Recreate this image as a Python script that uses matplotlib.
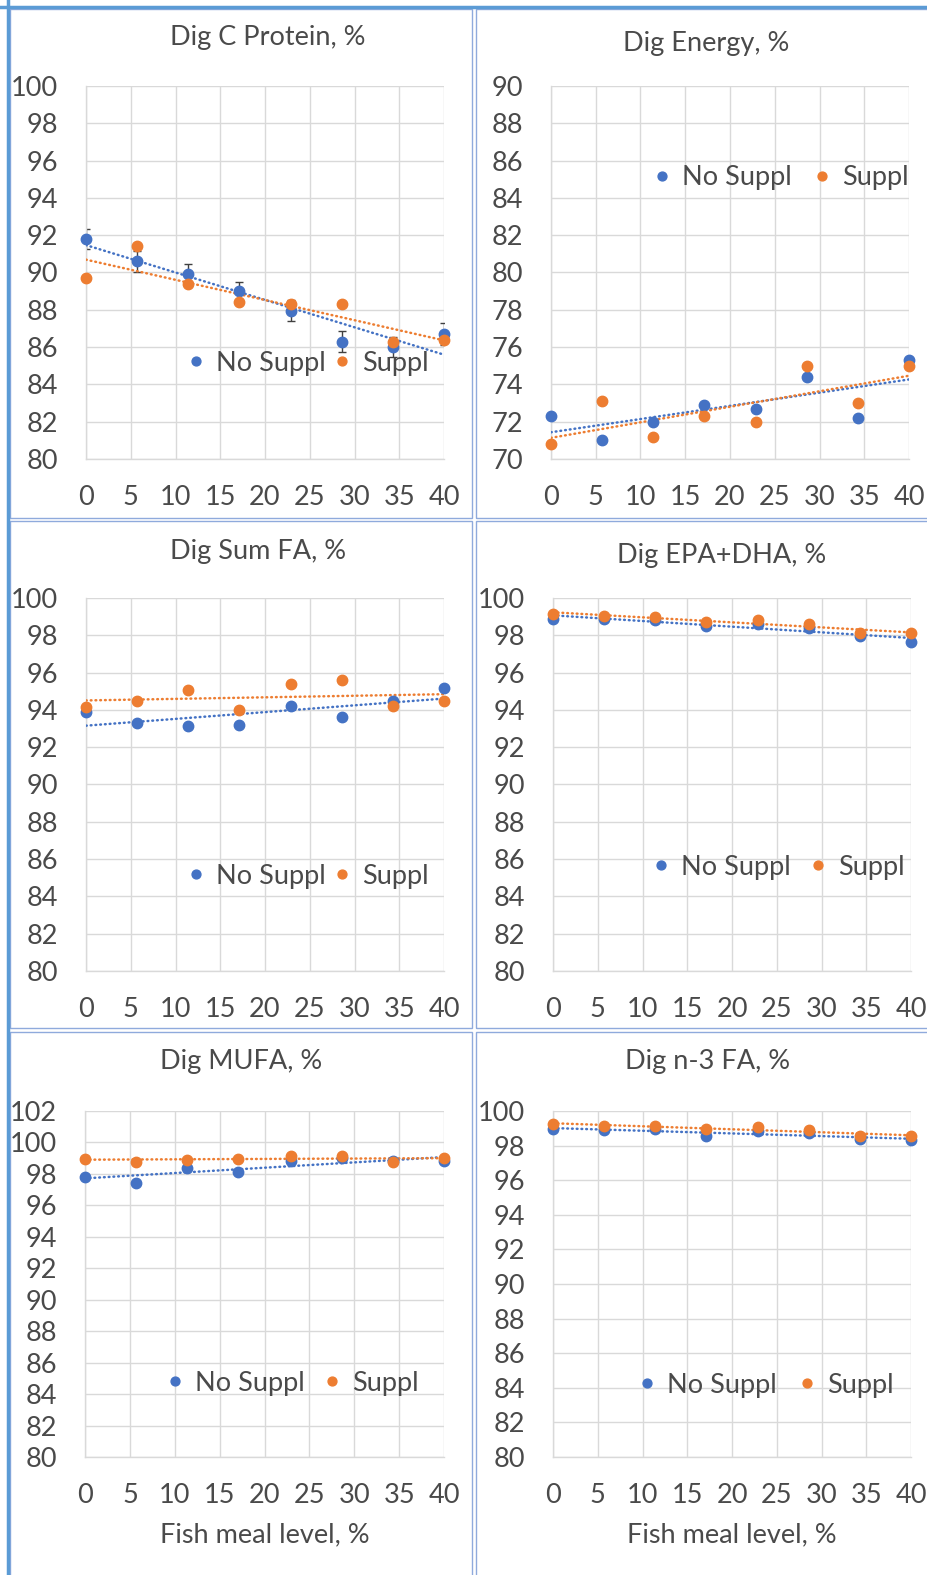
import numpy as np
import matplotlib
matplotlib.use("Agg")
import matplotlib.pyplot as plt
from matplotlib.patches import Rectangle
from matplotlib.lines import Line2D

plt.rcParams["font.family"] = ["Lato", "DejaVu Sans"]

# fish meal inclusion level (%), shared x for every panel
FISH_MEAL = [0, 5.7, 11.4, 17.1, 22.9, 28.6, 34.3, 40]

# Dig C Protein
protein_no = [91.8, 90.6, 89.9, 89.0, 87.95, 86.3, 86.0, 86.7]
protein_su = [89.7, 91.4, 89.4, 88.4, 88.3, 88.3, 86.3, 86.4]
protein_err = [0.55, 0.55, 0.55, 0.5, 0.55, 0.55, 0.55, 0.6]
# Dig Energy
energy_no = [72.3, 71.0, 72.0, 72.9, 72.7, 74.4, 72.2, 75.3]
energy_su = [70.8, 73.1, 71.2, 72.3, 72.0, 75.0, 73.0, 75.0]
# Dig Sum FA
sumfa_no = [93.9, 93.3, 93.15, 93.2, 94.2, 93.6, 94.5, 95.2]
sumfa_su = [94.15, 94.5, 95.05, 94.0, 95.4, 95.6, 94.2, 94.5]
# Dig EPA+DHA
epadha_no = [98.9, 98.9, 98.8, 98.5, 98.6, 98.4, 97.95, 97.65]
epadha_su = [99.15, 99.05, 99.0, 98.7, 98.8, 98.6, 98.15, 98.1]
# Dig MUFA
mufa_no = [97.8, 97.45, 98.4, 98.1, 98.8, 99.0, 98.8, 98.8]
mufa_su = [98.97, 98.75, 98.9, 98.95, 99.15, 99.15, 98.75, 99.0]
# Dig n-3 FA
n3_no = [98.96, 98.9, 98.95, 98.54, 98.83, 98.75, 98.4, 98.3]
n3_su = [99.23, 99.15, 99.13, 98.98, 99.06, 98.9, 98.54, 98.56]

TITLES = ["Dig C Protein, %", "Dig Energy, %", "Dig Sum FA, %",
          "Dig EPA+DHA, %", "Dig MUFA, %", "Dig n-3 FA, %"]
SERIES_NAMES = ["No Suppl", "Suppl"]
X_LABEL = "Fish meal level, %"

BLUE, ORANGE = "#4472C4", "#ED7D31"
TXT = "#4a4a4a"
GRID = "#D9D9D9"
W, H = 928, 1575

# panel layout in pixels: plot box (x0, y0, x1, y1), y-range, legend anchor, column spacing, title centre
PANELS = [
    dict(box=(86, 86, 444, 459), ylim=(80, 100), leg=(185, 363), cs=0.2, tc=(268, 38),
         no=protein_no, su=protein_su, err=protein_err),
    dict(box=(551, 86, 909, 459), ylim=(70, 90), leg=(651, 178), cs=0.7, tc=(706, 43),
         no=energy_no, su=energy_su),
    dict(box=(86, 598, 444, 971), ylim=(80, 100), leg=(185, 876), cs=0.2, tc=(258, 552),
         no=sumfa_no, su=sumfa_su),
    dict(box=(553, 598, 911, 971), ylim=(80, 100), leg=(650, 867), cs=0.6, tc=(722, 555),
         no=epadha_no, su=epadha_su),
    dict(box=(85, 1111, 444, 1457), ylim=(80, 102), leg=(164, 1383), cs=0.6, tc=(241, 1062),
         no=mufa_no, su=mufa_su),
    dict(box=(553, 1111, 911, 1457), ylim=(80, 100), leg=(636, 1385), cs=0.7, tc=(708, 1062),
         no=n3_no, su=n3_su),
]
FRAMES = [(10, 9, 472, 518), (476, 9, 930, 518), (10, 521, 472, 1028),
          (476, 521, 930, 1028), (10, 1032, 472, 1580), (476, 1032, 930, 1580)]

FS = 19.5

fig = plt.figure(figsize=(W / 100, H / 100), dpi=100)
fig.patch.set_facecolor("white")

for x0, y0, x1, y1 in FRAMES:
    fig.patches.append(Rectangle((x0 / W, 1 - y1 / H), (x1 - x0) / W, (y1 - y0) / H,
                                 transform=fig.transFigure, fill=False,
                                 edgecolor="#8FAADC", linewidth=1.0))
# thick outer edge on top and left
fig.add_artist(Line2D([0, 1], [1 - 7 / H] * 2, transform=fig.transFigure, color="#5B9BD5", lw=2.5))
fig.add_artist(Line2D([8 / W] * 2, [0, 1], transform=fig.transFigure, color="#5B9BD5", lw=2.5))

xs = np.array(FISH_MEAL)
xfit = np.array([0, 40])
for i, p in enumerate(PANELS):
    x0, y0, x1, y1 = p["box"]
    ax = fig.add_axes([x0 / W, 1 - y1 / H, (x1 - x0) / W, (y1 - y0) / H])
    ax.set_xlim(0, 40)
    ax.set_ylim(*p["ylim"])
    ax.set_xticks(range(0, 41, 5))
    ax.set_yticks(range(p["ylim"][0], p["ylim"][1] + 1, 2))
    ax.grid(True, color=GRID, linewidth=1.0)
    ax.set_axisbelow(True)
    for s in ax.spines.values():
        s.set_color(GRID)
        s.set_linewidth(1.0)
    ax.spines["top"].set_visible(False)
    ax.spines["right"].set_visible(False)
    ax.tick_params(length=0, labelsize=FS, labelcolor=TXT)
    ax.tick_params(axis="y", pad=20)
    ax.tick_params(axis="x", pad=19)

    for ys, c, name in [(p["no"], BLUE, SERIES_NAMES[0]), (p["su"], ORANGE, SERIES_NAMES[1])]:
        ys = np.array(ys)
        k, b = np.polyfit(xs, ys, 1)
        ax.plot(xfit, k * xfit + b, color=c, linewidth=1.8, linestyle=(0, (0.3, 1.6)),
                dash_capstyle="round", zorder=3)
        ax.plot(xs, ys, "o", color=c, markersize=7.5, label=name, zorder=4, clip_on=False)
    if "err" in p:
        ax.errorbar(xs, p["no"], yerr=p["err"], fmt="none", ecolor="#404040",
                    elinewidth=1.0, capsize=3, capthick=1.0, zorder=2)

    tx, ty = p["tc"]
    fig.text(tx / W, 1 - ty / H, TITLES[i], ha="center", va="center", fontsize=FS, color=TXT)
    if i >= 4:
        ax.set_xlabel(X_LABEL, fontsize=FS, color=TXT, labelpad=10)

    lx, ly = p["leg"]
    ax.legend(loc="center left", bbox_to_anchor=((lx - x0) / (x1 - x0), (y1 - ly) / (y1 - y0)),
              ncol=2, frameon=False, fontsize=FS, labelcolor=TXT, borderpad=0,
              borderaxespad=0, handlelength=0.8, handletextpad=0.35, columnspacing=p["cs"],
              markerscale=0.85)

fig.savefig("out.png", dpi=100)
